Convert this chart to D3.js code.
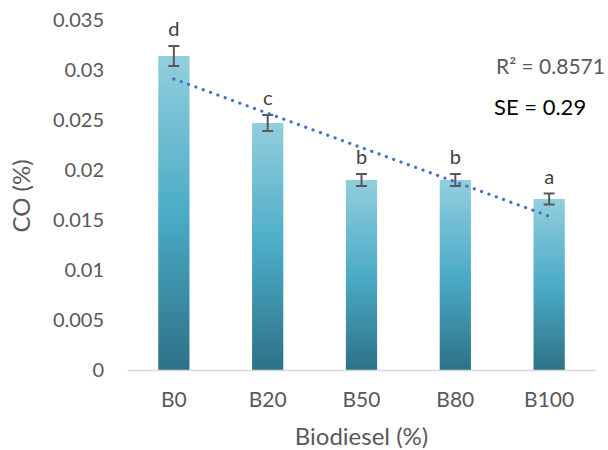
<!DOCTYPE html>
<html>
<head>
<meta charset="utf-8">
<script src="https://cdn.jsdelivr.net/npm/d3@7"></script>
<style>
  html, body { margin: 0; padding: 0; background: #fff; }
  svg text { font-family: Lato, "Open Sans", sans-serif; }
</style>
</head>
<body>
<svg id="chart" width="608" height="450"></svg>
<script>
// CO emissions by biodiesel blend
const categories = ["B0", "B20", "B50", "B80", "B100"];
const coValues = [0.0314, 0.0247, 0.0190, 0.0190, 0.0171];
const coErrors = [0.0010, 0.0008, 0.0006, 0.0006, 0.00055];
const groupLetters = ["d", "c", "b", "b", "a"];
const yTicks = [0, 0.005, 0.01, 0.015, 0.02, 0.025, 0.03, 0.035];
const yTickLabels = ["0", "0.005", "0.01", "0.015", "0.02", "0.025", "0.03", "0.035"];

const svg = d3.select("#chart");
const margin = { left: 127, right: 12, top: 20, bottom: 80 };
const W = 608, H = 450;

const x = d3.scaleBand()
  .domain(categories)
  .range([margin.left, W - margin.right])
  .paddingInner(0.667)
  .paddingOuter(0.333);

const y = d3.scaleLinear()
  .domain([0, 0.035])
  .range([370, 20]);

// vertical gradient applied per bar
const defs = svg.append("defs");
const grad = defs.append("linearGradient")
  .attr("id", "barGrad")
  .attr("x1", 0).attr("y1", 0).attr("x2", 0).attr("y2", 1);
grad.append("stop").attr("offset", "0%").attr("stop-color", "#93CEDE");
grad.append("stop").attr("offset", "50%").attr("stop-color", "#4BACC6");
grad.append("stop").attr("offset", "100%").attr("stop-color", "#2D7188");

// y axis labels (no line, no ticks)
const yAxis = d3.axisLeft(y)
  .tickValues(yTicks)
  .tickFormat((d, i) => yTickLabels[i])
  .tickSize(0)
  .tickPadding(0);
const yg = svg.append("g")
  .attr("transform", "translate(104,0)")
  .call(yAxis);
yg.select(".domain").remove();
yg.selectAll("text")
  .attr("fill", "#595959")
  .style("font-size", "20px");

// bars
svg.append("g").selectAll("rect")
  .data(coValues)
  .join("rect")
  .attr("x", (d, i) => x(categories[i]))
  .attr("width", x.bandwidth())
  .attr("y", d => y(d))
  .attr("height", d => y(0) - y(d))
  .attr("fill", "url(#barGrad)");

// x axis
const xAxis = d3.axisBottom(x).tickSize(0).tickPadding(22);
const xg = svg.append("g")
  .attr("transform", `translate(0,${y(0)})`)
  .call(xAxis);
xg.select(".domain")
  .attr("stroke", "#D9D9D9")
  .attr("stroke-width", 1.5);
xg.selectAll("text")
  .attr("fill", "#595959")
  .style("font-size", "21px");

// error bars
const eb = svg.append("g")
  .attr("stroke", "#595959")
  .attr("stroke-width", 2)
  .attr("fill", "none");
coValues.forEach((v, i) => {
  const cx = x(categories[i]) + x.bandwidth() / 2;
  const hi = y(v + coErrors[i]);
  const lo = y(v - coErrors[i]);
  eb.append("line").attr("x1", cx).attr("x2", cx).attr("y1", hi).attr("y2", lo);
  eb.append("line").attr("x1", cx - 5.5).attr("x2", cx + 5.5).attr("y1", hi).attr("y2", hi);
  eb.append("line").attr("x1", cx - 5.5).attr("x2", cx + 5.5).attr("y1", lo).attr("y2", lo);
});

// significance letters
svg.append("g").selectAll("text")
  .data(groupLetters)
  .join("text")
  .attr("x", (d, i) => x(categories[i]) + x.bandwidth() / 2)
  .attr("y", (d, i) => y(coValues[i] + coErrors[i]) - 10)
  .attr("text-anchor", "middle")
  .attr("fill", "#404040")
  .style("font-size", "20px")
  .text(d => d);

// linear trendline (least squares on category index)
const n = coValues.length;
const xs = d3.range(1, n + 1);
const mx = d3.mean(xs), my = d3.mean(coValues);
const slope = d3.sum(xs, (xi, i) => (xi - mx) * (coValues[i] - my)) / d3.sum(xs, xi => (xi - mx) ** 2);
const intercept = my - slope * mx;
const trendPts = [1, n].map(k => [
  x(categories[k - 1]) + x.bandwidth() / 2,
  y(intercept + slope * k)
]);
svg.append("path")
  .attr("d", d3.line()(trendPts))
  .attr("stroke", "#4472C4")
  .attr("stroke-width", 3.2)
  .attr("stroke-linecap", "round")
  .attr("stroke-dasharray", "0.1 7.7")
  .attr("fill", "none");

// regression annotations
svg.append("text")
  .attr("x", 496).attr("y", 74)
  .attr("fill", "#595959")
  .style("font-size", "21px")
  .text("R² = 0.8571");
svg.append("text")
  .attr("x", 494).attr("y", 115)
  .attr("fill", "#000")
  .style("font-size", "22px")
  .text("SE = 0.29");

// axis titles
svg.append("text")
  .attr("x", x.range()[0] + (x.range()[1] - x.range()[0]) / 2)
  .attr("y", 445)
  .attr("text-anchor", "middle")
  .attr("fill", "#595959")
  .style("font-size", "24px")
  .text("Biodiesel (%)");
svg.append("text")
  .attr("transform", "translate(30,196) rotate(-90)")
  .attr("text-anchor", "middle")
  .attr("fill", "#595959")
  .style("font-size", "24px")
  .text("CO (%)");
</script>
</body>
</html>
